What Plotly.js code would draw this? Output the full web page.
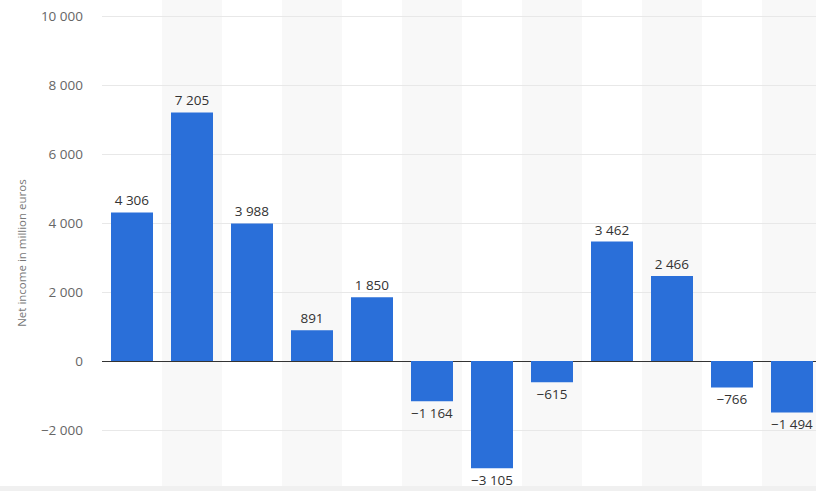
<!DOCTYPE html>
<html>
<head>
<meta charset="utf-8">
<script src="https://cdn.plot.ly/plotly-3.0.1.min.js"></script>
<style>html,body{margin:0;padding:0;background:#fff;}#chart{width:816px;height:491px;}</style>
</head>
<body>
<div id="chart"></div>
<script>
var categories = ['2008','2009','2010','2011','2012','2013','2014','2015','2016','2017','2018','2019'];
var netIncome = [4306, 7205, 3988, 891, 1850, -1164, -3105, -615, 3462, 2466, -766, -1494];
var yTickValues = [-2000, 0, 2000, 4000, 6000, 8000, 10000];
var yTickLabels = ['−2 000', '0', '2 000', '4 000', '6 000', '8 000', '10 000'];
var yTitle = 'Net income in million euros';

function fmt(v){
  var s = Math.abs(v).toString().replace(/\B(?=(\d{3})+(?!\d))/g, ' ');
  return (v < 0 ? '−' : '') + s;
}

var xIdx = categories.map(function(c, i){ return i; });

var shapes = [];
xIdx.forEach(function(i){
  if (i % 2 === 1) {
    shapes.push({type:'rect', xref:'x', yref:'paper', x0:i-0.5, x1:i+0.5, y0:0, y1:1,
      fillcolor:'#f8f8f8', line:{width:0}, layer:'below'});
  }
});
shapes.push({type:'rect', xref:'paper', yref:'paper', x0:-0.2, x1:1.1, y0:-0.02, y1:0.004,
  fillcolor:'#f0f0f0', line:{width:0}, layer:'above'});

var trace = {
  type:'bar',
  x: xIdx,
  y: netIncome,
  marker:{color:'#2a6fd9'},
  text: netIncome.map(fmt),
  texttemplate:'%{text}',
  textposition:'outside',
  textfont:{family:'Open Sans, Roboto, sans-serif', size:13.5, color:'#333'},
  cliponaxis:false,
  hoverinfo:'none'
};

var layout = {
  width:816, height:491,
  margin:{l:102, r:0, t:0, b:3},
  paper_bgcolor:'#fff', plot_bgcolor:'#fff',
  bargap:0.3,
  showlegend:false,
  xaxis:{range:[-0.5, 11.4], showticklabels:false, showgrid:false, zeroline:false, ticks:'', fixedrange:true},
  yaxis:{range:[-3680, 10464], tickvals:yTickValues, ticktext:yTickLabels,
    tickfont:{family:'Open Sans, Roboto, sans-serif', size:13.5, color:'#666'},
    gridcolor:'#e8e8e8', gridwidth:1, zeroline:true, zerolinecolor:'#333', zerolinewidth:1,
    ticklabelstandoff:18},
  annotations:[{text:yTitle, xref:'paper', yref:'paper', x:-0.112, y:0.48, xanchor:'center', yanchor:'middle',
    textangle:-90, showarrow:false, font:{family:'Open Sans, Roboto, sans-serif', size:11.5, color:'#777'}}],
  shapes:shapes,
  font:{family:'Open Sans, Roboto, sans-serif'}
};

Plotly.newPlot('chart', [trace], layout, {staticPlot:true, displayModeBar:false});
</script>
</body>
</html>
